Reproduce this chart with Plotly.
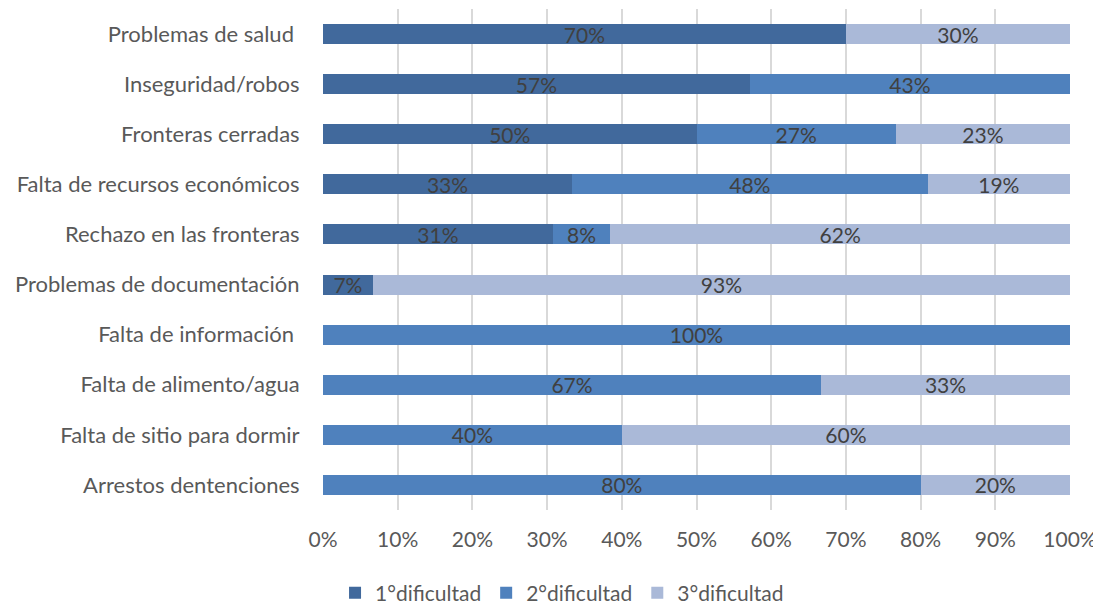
import plotly.graph_objects as go

categories = ["Problemas de salud ", "Inseguridad/robos", "Fronteras cerradas",
              "Falta de recursos económicos", "Rechazo en las fronteras",
              "Problemas de documentación", "Falta de información ",
              "Falta de alimento/agua", "Falta de sitio para dormir",
              "Arrestos dentenciones"]
series_names = ["1°dificultad", "2°dificultad", "3°dificultad"]
d1 = [70.0, 57.14, 50.0, 33.33, 30.77, 6.67, None, None, None, None]
d2 = [None, 42.86, 26.67, 47.62, 7.69, None, 100.0, 66.67, 40.0, 80.0]
d3 = [30.0, None, 23.33, 19.05, 61.54, 93.33, None, 33.33, 60.0, 20.0]
colors = ["#41699C", "#4F81BD", "#AAB9D8"]
tick_vals = [0, 10, 20, 30, 40, 50, 60, 70, 80, 90, 100]
tick_text = [f"{v}%" for v in tick_vals]

FONT = "Lato"
fig = go.Figure()
for name, vals, col in zip(series_names, [d1, d2, d3], colors):
    fig.add_trace(go.Bar(
        y=categories, x=vals, name=name, orientation="h",
        marker=dict(color=col, line=dict(width=0)),
        texttemplate="%{x:.0f}%", textposition="inside",
        insidetextanchor="middle", constraintext="none",
        textfont=dict(color="#404040", size=21, family=FONT),
        hoverinfo="skip",
    ))

fig.update_layout(
    barmode="stack", bargap=0.6,
    width=1093, height=597,
    margin=dict(l=315, r=31, t=1, b=95, autoexpand=False),
    paper_bgcolor="white", plot_bgcolor="white",
    font=dict(family=FONT, color="#595959", size=21),
    showlegend=True,
    legend=dict(orientation="h", x=0.32, xanchor="center", y=-0.166, yanchor="middle",
                font=dict(size=21, color="#595959", family=FONT), traceorder="normal",
                itemwidth=30),
    xaxis=dict(range=[0, 100], tickmode="array", tickvals=tick_vals, ticktext=tick_text,
               showgrid=True, gridcolor="#D9D9D9", gridwidth=1.5,
               zeroline=False, showline=False,
               ticks="outside", ticklen=11, tickcolor="rgba(0,0,0,0)",
               tickfont=dict(size=21, color="#595959", family=FONT), fixedrange=True),
    yaxis=dict(autorange="reversed", showgrid=False, zeroline=False, showline=False,
               ticks="outside", ticklen=18, tickcolor="rgba(0,0,0,0)",
               tickfont=dict(size=22, color="#595959", family=FONT), fixedrange=True),
)
fig.write_html("out.html")
